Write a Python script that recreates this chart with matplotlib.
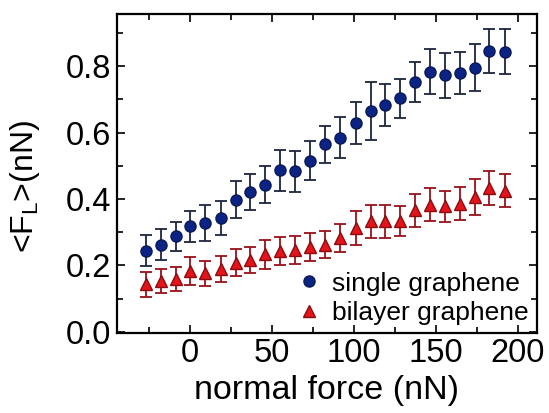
import numpy as np
import matplotlib
matplotlib.use("Agg")
import matplotlib.pyplot as plt
from matplotlib.ticker import MultipleLocator

plt.rcParams['font.family'] = ['Liberation Sans', 'DejaVu Sans']
plt.rcParams['mathtext.fontset'] = 'custom'
plt.rcParams['mathtext.rm'] = 'Liberation Sans'

# normal force (nN)
force = [-26.8, -17.7, -8.5, 0.0, 9.1, 18.9, 28.0, 36.6, 45.7, 54.9, 64.0, 73.2,
         82.3, 91.5, 101.2, 110.4, 118.9, 128.0, 137.2, 146.3, 155.5, 164.6,
         173.8, 182.3, 192.0]

# single graphene <F_L> and error
single = [0.245, 0.263, 0.288, 0.318, 0.328, 0.343, 0.398, 0.420, 0.443, 0.486,
          0.483, 0.515, 0.565, 0.585, 0.630, 0.666, 0.682, 0.703, 0.753, 0.783,
          0.772, 0.780, 0.796, 0.846, 0.844]
single_err = [0.048, 0.047, 0.044, 0.047, 0.054, 0.051, 0.055, 0.054, 0.056, 0.063,
              0.063, 0.059, 0.055, 0.062, 0.063, 0.087, 0.063, 0.058, 0.061, 0.068,
              0.069, 0.064, 0.070, 0.066, 0.069]

# bilayer graphene <F_L> and error
bilayer = [0.143, 0.153, 0.158, 0.183, 0.176, 0.188, 0.208, 0.216, 0.233, 0.243,
           0.246, 0.256, 0.263, 0.283, 0.313, 0.333, 0.333, 0.335, 0.366, 0.383,
           0.378, 0.386, 0.406, 0.433, 0.425]
bilayer_err = [0.038, 0.037, 0.036, 0.041, 0.037, 0.039, 0.041, 0.039, 0.043, 0.042,
               0.043, 0.042, 0.040, 0.043, 0.051, 0.049, 0.049, 0.045, 0.049, 0.049,
               0.047, 0.049, 0.054, 0.050, 0.049]

fig = plt.figure(figsize=(5.49, 4.13), dpi=100)
ax = fig.add_axes([0.213, 0.194, 0.765, 0.772])

ax.errorbar(force, single, yerr=single_err, fmt='o', color='#0a2384',
            mec='#0a1a55', ms=8, ecolor='#1c2540', elinewidth=1.3,
            capsize=4, capthick=1.3, label='single graphene')
ax.errorbar(force, bilayer, yerr=bilayer_err, fmt='^', color='#e4141a',
            mec='#8a0c10', ms=8, ecolor='#9a1018', elinewidth=1.3,
            capsize=4, capthick=1.3, label='bilayer graphene')

ax.set_xlim(-44.5, 211.5)
ax.set_ylim(-0.003, 0.957)
ax.xaxis.set_major_locator(MultipleLocator(50))
ax.xaxis.set_minor_locator(MultipleLocator(25))
ax.yaxis.set_major_locator(MultipleLocator(0.2))
ax.yaxis.set_minor_locator(MultipleLocator(0.1))
ax.tick_params(which='both', direction='in', top=True, right=True, width=1.2,
               labelsize=23.5, pad=4)
ax.tick_params(which='major', length=6)
ax.tick_params(which='minor', length=4)
for s in ax.spines.values():
    s.set_linewidth(1.6)

ax.set_xlabel('normal force (nN)', fontsize=24.5, labelpad=4)
ax.set_ylabel(r'<F$_\mathregular{L}$>(nN)', fontsize=23)
ax.yaxis.set_label_coords(-0.178, 0.46)

handles, labels = ax.get_legend_handles_labels()
handles = [h[0] for h in handles]
ax.legend(handles, labels, loc='lower right', frameon=False, fontsize=19,
          handletextpad=0.3, handlelength=1.2, borderaxespad=0.1,
          labelspacing=0.2, borderpad=0.2)

fig.savefig('out.png', dpi=100)
